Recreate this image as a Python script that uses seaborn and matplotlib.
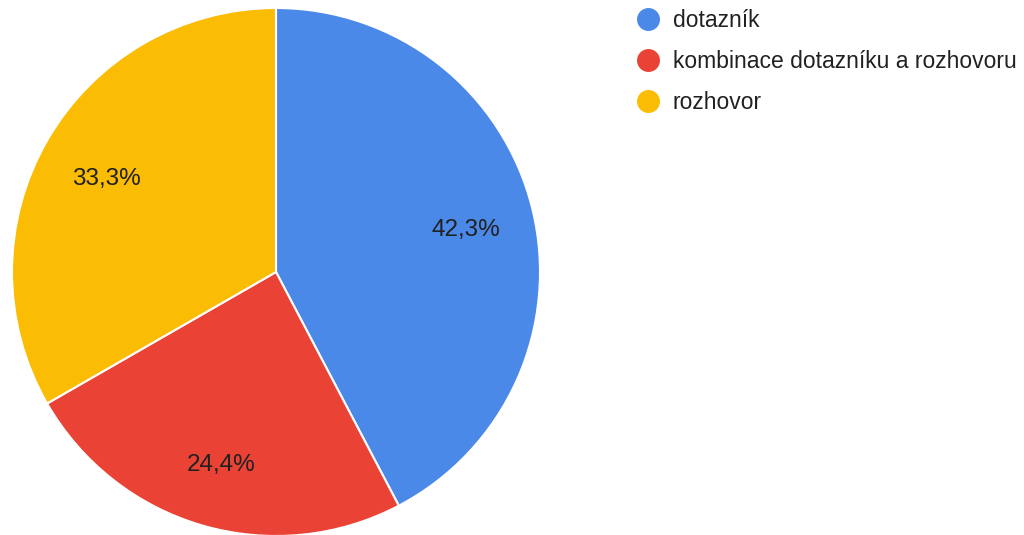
import numpy as np
import matplotlib.pyplot as plt
import seaborn as sns
from matplotlib.lines import Line2D

# data
categories = ["dotazník", "kombinace dotazníku a rozhovoru", "rozhovor"]
shares = [42.3, 24.4, 33.3]
colors = ["#4a89e8", "#ea4335", "#fbbc04"]

sns.set_style("white")
plt.rcParams["font.family"] = ["Liberation Sans", "DejaVu Sans"]

fig = plt.figure(figsize=(10.24, 5.35), dpi=100)
ax = fig.add_axes([12 / 1024, -1 / 535, 528 / 1024, 528 / 535])

wedges, texts, autotexts = ax.pie(
    shares,
    colors=colors,
    startangle=90,
    counterclock=False,
    autopct=lambda p: f"{p:.1f}".replace(".", ",") + "%",
    pctdistance=0.74,
    wedgeprops={"edgecolor": "white", "linewidth": 1.5},
    textprops={"fontsize": 17.5, "color": "#212121"},
)
# nudge labels down a few pixels
for t in autotexts:
    x, y = t.get_position()
    t.set_position((x, y - 0.02))

ax.set_aspect("equal")
ax.set_xlim(-1.0, 1.0)
ax.set_ylim(-1.0, 1.0)

handles = [
    Line2D([], [], marker="o", linestyle="none", markersize=15.5,
           markerfacecolor=c, markeredgecolor=c)
    for c in colors
]
fig.legend(
    handles, categories,
    loc="upper left",
    bbox_to_anchor=(627 / 1024, 1 - 0 / 535),
    frameon=False,
    fontsize=16.5,
    labelcolor="#212121",
    handlelength=1.0,
    handletextpad=0.6,
    labelspacing=0.78,
    borderaxespad=0,
)

fig.savefig("out.png", dpi=100)
